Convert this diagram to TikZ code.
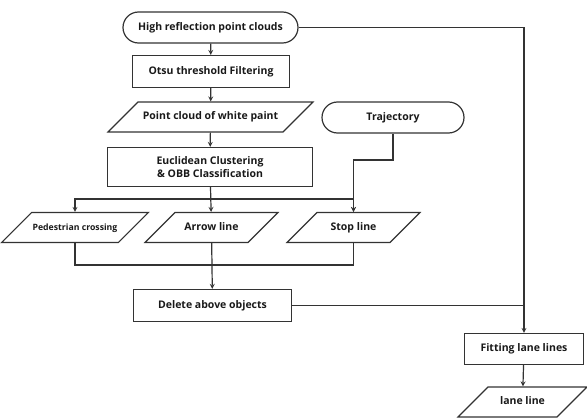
\documentclass[tikz,border=0pt]{standalone}
\usepackage{fontspec}
\setsansfont{Open Sans}
\usetikzlibrary{arrows,shapes.geometric}

\begin{document}
\begin{tikzpicture}[x=1pt,y=-1pt,line width=1.2pt,draw=black!80,>=stealth]
\tikzstyle{every node}=[font=\sffamily\bfseries\fontsize{10.5}{12.5}\selectfont, text=black!90, align=center, inner sep=1pt]
\tikzstyle{terminal}=[draw, rectangle, rounded corners=15.5pt, minimum height=31pt]
\tikzstyle{procbox}=[draw, rectangle, minimum height=32pt]
\tikzstyle{iobox}=[draw, trapezium, trapezium left angle=45, trapezium right angle=135, trapezium stretches body, text height=7.5pt, text depth=2.5pt, inner ysep=10pt]
\useasboundingbox (0,0) rectangle (587,420);
% main column
\draw (210.5,27.5) node (hrpc) [terminal, minimum width=175pt] {High reflection point clouds};
\draw (211,71.5) node (otsu) [procbox, minimum width=157pt] {Otsu threshold Filtering};
\draw (210.5,117) node (pcwp) [iobox, minimum width=205pt] {Point cloud of white paint};
\draw (210,167) node (ecobb) [procbox, minimum width=205pt, minimum height=39pt] {Euclidean Clustering\\\& OBB Classification};
\draw (393,117.5) node (traj) [terminal, minimum width=142pt] {Trajectory};
% classified objects
\draw (75,227.5) node (ped) [iobox, minimum width=134pt, font=\sffamily\bfseries\fontsize{8.7}{10}\selectfont] {Pedestrian crossing};
\draw (211.5,227.5) node (arrow) [iobox, minimum width=133pt] {Arrow line};
\draw (353.5,227.5) node (stop) [iobox, minimum width=133pt] {Stop line};
\draw (212.5,305.5) node (del) [procbox, minimum width=158pt] {Delete above objects};
% lane lines
\draw (524,349) node (fit) [procbox, minimum width=119pt, minimum height=31pt] {Fitting lane lines};
\draw (522.5,402) node (lane) [iobox, minimum width=129pt] {lane line};
\coordinate (br) at (211,199);
\coordinate (tbend) at (393,160);
\coordinate (mrg) at (211,265);
\coordinate (rtop) at (524,27.5);
\coordinate (jn) at (524,305.5);
\draw[->] (hrpc) -- (otsu);
\draw[->] (otsu) -- (pcwp);
\draw[->] (pcwp) -- (ecobb);
\draw[->] (ecobb) -- (arrow);
\draw[->] (br) -| (ped);
\draw[->] (br) -| (stop);
\draw[->] (traj) -- (tbend) -| (stop);
\draw (ped) |- (mrg) -| (stop);
\draw[->] (arrow) -- (del);
\draw[->] (hrpc) -- (rtop) -- (fit);
\draw (del) -- (jn);
\draw[->] (fit) -- (lane);
\end{tikzpicture}
\end{document}
